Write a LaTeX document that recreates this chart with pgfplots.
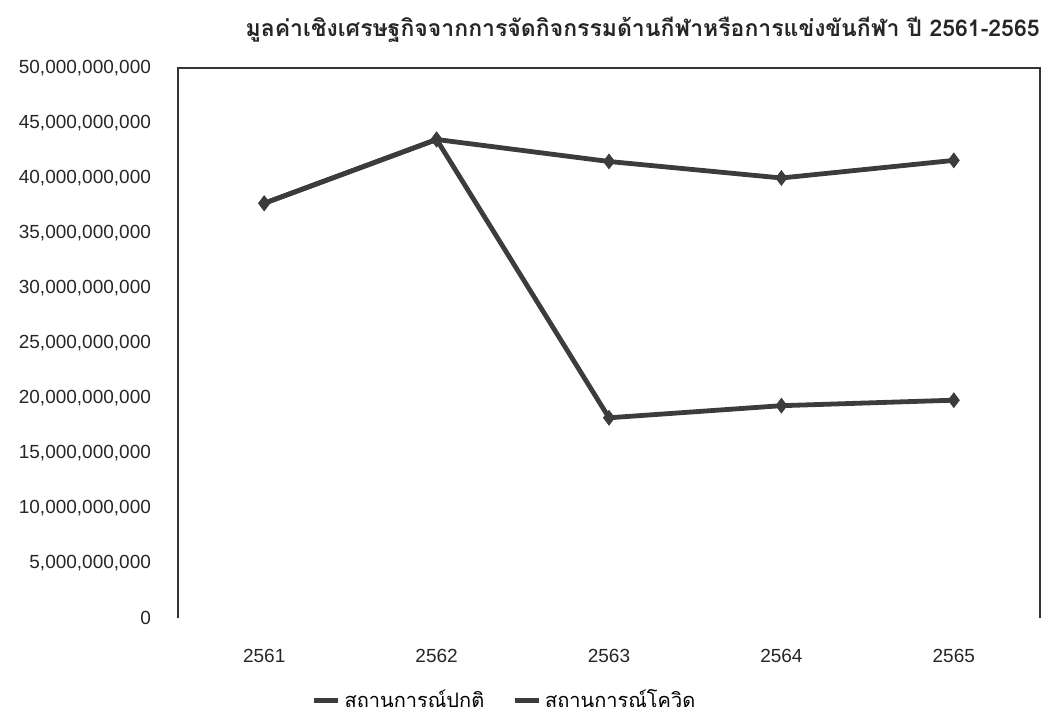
\documentclass[border=0pt]{standalone}
\usepackage{pgfplots}
\pgfplotsset{compat=1.18}
\usepackage{fontspec}
\setmainfont{Liberation Sans}
\newfontfamily\thaifont[Script=Thai]{Loma}
\definecolor{lc}{HTML}{3C3C3C}
\begin{document}
\begin{tikzpicture}
\begin{axis}[
  name=ax,
  scale only axis,
  width=431pt, height=275pt,
  xmin=-0.5, xmax=4.5,
  ymin=0, ymax=5e10,
  scaled y ticks=false,
  xtick={0,1,2,3,4},
  xticklabels={2561,2562,2563,2564,2565},
  ytick={0,5e9,1e10,1.5e10,2e10,2.5e10,3e10,3.5e10,4e10,4.5e10,5e10},
  yticklabels={0,{5,000,000,000},{10,000,000,000},{15,000,000,000},{20,000,000,000},{25,000,000,000},{30,000,000,000},{35,000,000,000},{40,000,000,000},{45,000,000,000},{50,000,000,000}},
  major tick length=0pt,
  axis line style={draw=none},
  tick label style={font=\fontsize{9.5}{11}\selectfont, text=black!85},
  yticklabel style={anchor=east, xshift=-10pt},
  xticklabel style={anchor=north, yshift=-12pt},
  legend style={draw=none, fill=none, at={(0.38,-0.15)}, anchor=center,
    font=\thaifont\fontsize{10}{12}\selectfont, /tikz/every even column/.append style={column sep=12pt}},
  legend columns=2,
  legend image code/.code={\draw[#1, mark=none] (0pt,0pt) -- (12pt,0pt);},
  clip=false,
]
\addplot[lc, line width=2.4pt, mark=diamond*, mark size=2pt] coordinates {
  (0,37.7e9) (1,43.5e9) (2,41.5e9) (3,40.0e9) (4,41.6e9)};
\addlegendentry{สถานการณ์ปกติ}
\addplot[lc, line width=2.4pt, mark=diamond*, mark size=2pt] coordinates {
  (0,37.7e9) (1,43.5e9) (2,18.2e9) (3,19.3e9) (4,19.8e9)};
\addlegendentry{สถานการณ์โควิด}
\draw[black!80, line width=1pt] (rel axis cs:0,0) -- (rel axis cs:0,1) -- (rel axis cs:1,1) -- (rel axis cs:1,0);
\node[anchor=east, inner sep=0pt, font=\thaifont\bfseries\fontsize{11.5}{14}\selectfont, text=black!85] at ([yshift=19pt]rel axis cs:1,1) {มูลค่าเชิงเศรษฐกิจจากการจัดกิจกรรมด้านกีฬาหรือการแข่งขันกีฬา ปี 2561-2565};
\end{axis}
\pgfresetboundingbox
\useasboundingbox ([shift={(-89pt,-53.5pt)}]ax.south west) rectangle ([shift={(5.5pt,34pt)}]ax.north east);
\end{tikzpicture}
\end{document}
